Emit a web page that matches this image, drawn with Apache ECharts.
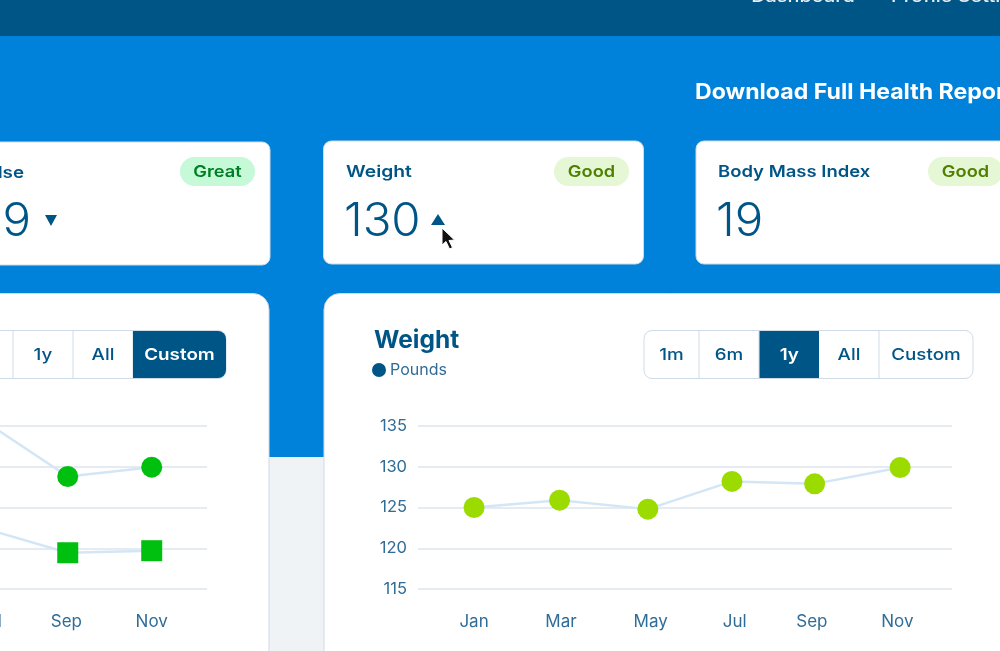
<!DOCTYPE html>
<html>
<head>
<meta charset="utf-8">
<style>
html, body { margin: 0; padding: 0; background: #eff3f6; overflow: hidden; }
#chart { width: 1000px; height: 651px; }
</style>
<script src="https://cdn.jsdelivr.net/npm/echarts@6/dist/echarts.min.js"></script>
</head>
<body>
<div id="chart"></div>
<script>
// x values are day offsets from the Jan reading
const weightDays = [0, 61, 124, 184, 243, 304];
const weightPounds = [125, 125.9, 124.8, 128.2, 127.9, 129.9];
const weightTickDays = [0, 62, 126, 186, 241, 302];
const weightTickLabels = ['Jan', 'Mar', 'May', 'Jul', 'Sep', 'Nov'];

const pressureDays = [181, 242, 302];
const systolic = [143, 115.2, 119.8];
const diastolic = [90, 77.8, 78.8];
const pressureTickDays = [241, 302];
const pressureTickLabels = ['Sep', 'Nov'];

const NAVY = '#005587';
const BLUE = '#0082da';
const BORDER = '#cfdbe6';
const FONT = 'Inter';
const GRID_LINE = '#e5ebf1';
const LINE = '#d3e6f6';
const AXIS_TEXT = '#2f6c97';

function pairs(xs, ys) {
    return xs.map((x, i) => [x, ys[i]]);
}

function box(x, y, w, h, r, fill, stroke) {
    return {
        type: 'rect',
        shape: { x: x, y: y, width: w, height: h, r: r },
        style: { fill: fill, stroke: stroke || null, lineWidth: stroke ? 1 : 0 }
    };
}

// Montserrat isn't installed, sx stretches Inter out to the same width
function label(x, y, text, size, weight, color, align, sx) {
    return {
        type: 'text',
        x: x,
        y: y,
        scaleX: sx || 1.14,
        style: {
            text: text,
            fontFamily: FONT,
            fontSize: size,
            fontWeight: weight,
            fill: color,
            align: align || 'left',
            verticalAlign: 'middle'
        }
    };
}

function pill(x, text, bg, color) {
    return [
        box(x, 157, 75, 29, 14.5, bg),
        label(x + 37.5, 172.5, text, 16, 600, color, 'center')
    ];
}

function buttons(list) {
    const out = [];
    list.forEach((b, i) => {
        if (b.active) {
            out.push(box(b.x0, 331, b.x1 - b.x0, 47, b.r || 0, NAVY));
        } else if (i < list.length - 1) {
            out.push({
                type: 'line',
                shape: { x1: b.x1, y1: 331, x2: b.x1, y2: 378 },
                style: { stroke: BORDER, lineWidth: 1 }
            });
        }
        out.push(label((b.x0 + b.x1) / 2, 355, b.text, 16.5, b.active ? 600 : 500, b.active ? '#fff' : NAVY, 'center'));
    });
    return out;
}

const chrome = [
    box(0, 0, 1000, 36, 0, NAVY),
    box(0, 36, 1000, 421, 0, BLUE),
    box(0, 457, 1000, 194, 0, '#eff3f6'),

    label(803, -3, 'Dashboard', 17, 500, '#e3edf4', 'center', 1.17),
    label(891, -3, 'Profile Settings', 17, 500, '#e3edf4', 'left', 1.17),
    label(695, 93, 'Download Full Health Report', 21.5, 700, '#fff', 'left', 1.075),

    // metric cards
    box(-40, 142, 310, 123, 8, '#fff', BORDER),
    box(323.5, 141, 320, 123, 8, '#fff', BORDER),
    box(696, 141, 340, 123, 8, '#fff', BORDER),

    label(-26, 173, 'Pulse', 16.5, 600, NAVY),
    label(-26, 222, '69', 46, 300, NAVY, 'left', 1.03),
    { type: 'polygon', shape: { points: [[45, 215], [57, 215], [51, 226]] }, style: { fill: NAVY } },

    label(346, 172, 'Weight', 16.5, 600, NAVY, 'left', 1.17),
    label(344, 222, '130', 46, 300, NAVY, 'left', 1.03),
    { type: 'polygon', shape: { points: [[431, 225], [445, 225], [438, 214]] }, style: { fill: NAVY } },

    label(718, 172, 'Body Mass Index', 16.5, 600, NAVY, 'left', 1.12),
    label(716, 222, '19', 46, 300, NAVY, 'left', 1.03),

    ...pill(180, 'Great', '#c5f9d8', '#007f22'),
    ...pill(554, 'Good', '#e6f7d5', '#4f8000'),
    ...pill(928, 'Good', '#e6f7d5', '#4f8000'),

    // chart cards
    box(-40, 293.5, 309, 400, 16, '#fff', BORDER),
    box(324, 293.5, 720, 400, 16, '#fff', BORDER),

    // range buttons
    box(-40, 330.5, 266, 48, 8, '#fff', BORDER),
    box(644, 330.5, 329, 48, 8, '#fff', BORDER),
    ...buttons([
        { x0: -20, x1: 13, text: '' },
        { x0: 13, x1: 73, text: '1y' },
        { x0: 73, x1: 133, text: 'All' },
        { x0: 133, x1: 226, text: 'Custom', active: true, r: [0, 8, 8, 0] }
    ]),
    ...buttons([
        { x0: 644, x1: 699, text: '1m' },
        { x0: 699, x1: 759, text: '6m' },
        { x0: 759.5, x1: 819, text: '1y', active: true },
        { x0: 819, x1: 879, text: 'All' },
        { x0: 879, x1: 973, text: 'Custom' }
    ]),

    // Jul falls off the left edge of the page, outside the cropped axis
    label(-10, 621.5, 'Jul', 17, 400, AXIS_TEXT, 'center', 1)
];

// mouse pointer sits on top of the metric card
const cursor = {
    type: 'polygon',
    z: 50,
    shape: { points: [[442, 228], [442, 245], [446, 241.5], [449.5, 249], [452.5, 247.5], [449, 240.5], [454.5, 240]] },
    style: { fill: '#111', stroke: '#fff', lineWidth: 1 }
};

function xAxis(grid, min, max, days, names) {
    return {
        type: 'value',
        gridIndex: grid,
        min: min,
        max: max,
        splitLine: { show: false },
        axisLine: { show: false },
        axisTick: { show: false },
        axisLabel: {
            customValues: days,
            formatter: (v) => names[days.indexOf(v)],
            color: AXIS_TEXT,
            fontFamily: FONT,
            fontSize: 17,
            margin: 24
        }
    };
}

function yAxis(grid, min, max, interval, showLabels) {
    return {
        type: 'value',
        gridIndex: grid,
        min: min,
        max: max,
        interval: interval,
        splitLine: { lineStyle: { color: GRID_LINE, width: 2 } },
        axisLine: { show: false },
        axisTick: { show: false },
        axisLabel: {
            show: showLabels,
            color: AXIS_TEXT,
            fontFamily: FONT,
            fontSize: 16.5,
            margin: 11,
            padding: [2, 0, 0, 0]
        }
    };
}

function lineSeries(name, grid, data, symbol, color) {
    return {
        name: name,
        type: 'line',
        xAxisIndex: grid,
        yAxisIndex: grid,
        data: data,
        symbol: symbol,
        symbolSize: 21,
        showAllSymbol: true,
        clip: false,
        lineStyle: { color: LINE, width: 2.5 },
        itemStyle: { color: color, opacity: 1 },
        emphasis: { disabled: true },
        z: 5
    };
}

const myChart = echarts.init(document.getElementById('chart'));

myChart.setOption({
    animation: false,
    backgroundColor: '#eff3f6',
    title: {
        text: 'Weight',
        left: 374,
        top: 328,
        textStyle: { color: NAVY, fontFamily: FONT, fontSize: 24.5, fontWeight: 700 },
        padding: 0
    },
    legend: {
        data: [{ name: 'Pounds', icon: 'circle', itemStyle: { color: NAVY } }],
        left: 372,
        top: 362,
        padding: 0,
        itemWidth: 14,
        itemHeight: 14,
        itemGap: 5,
        textStyle: { color: AXIS_TEXT, fontFamily: FONT, fontSize: 16, padding: [0, 0, 0, -1] }
    },
    graphic: { elements: [...chrome, cursor] },
    grid: [
        { left: 418, top: 426, width: 534, height: 163 },
        { left: 0, top: 426, width: 207, height: 163 }
    ],
    xAxis: [
        xAxis(0, -40, 341, weightTickDays, weightTickLabels),
        xAxis(1, 193.6, 341.5, pressureTickDays, pressureTickLabels)
    ],
    yAxis: [
        yAxis(0, 115, 135, 5, true),
        yAxis(1, 60, 140, 20, false)
    ],
    series: [
        lineSeries('Pounds', 0, pairs(weightDays, weightPounds), 'circle', '#9bdb00'),
        lineSeries('Systolic', 1, pairs(pressureDays, systolic), 'circle', '#00c00f'),
        lineSeries('Diastolic', 1, pairs(pressureDays, diastolic), 'rect', '#00c00f')
    ]
});
</script>
</body>
</html>
